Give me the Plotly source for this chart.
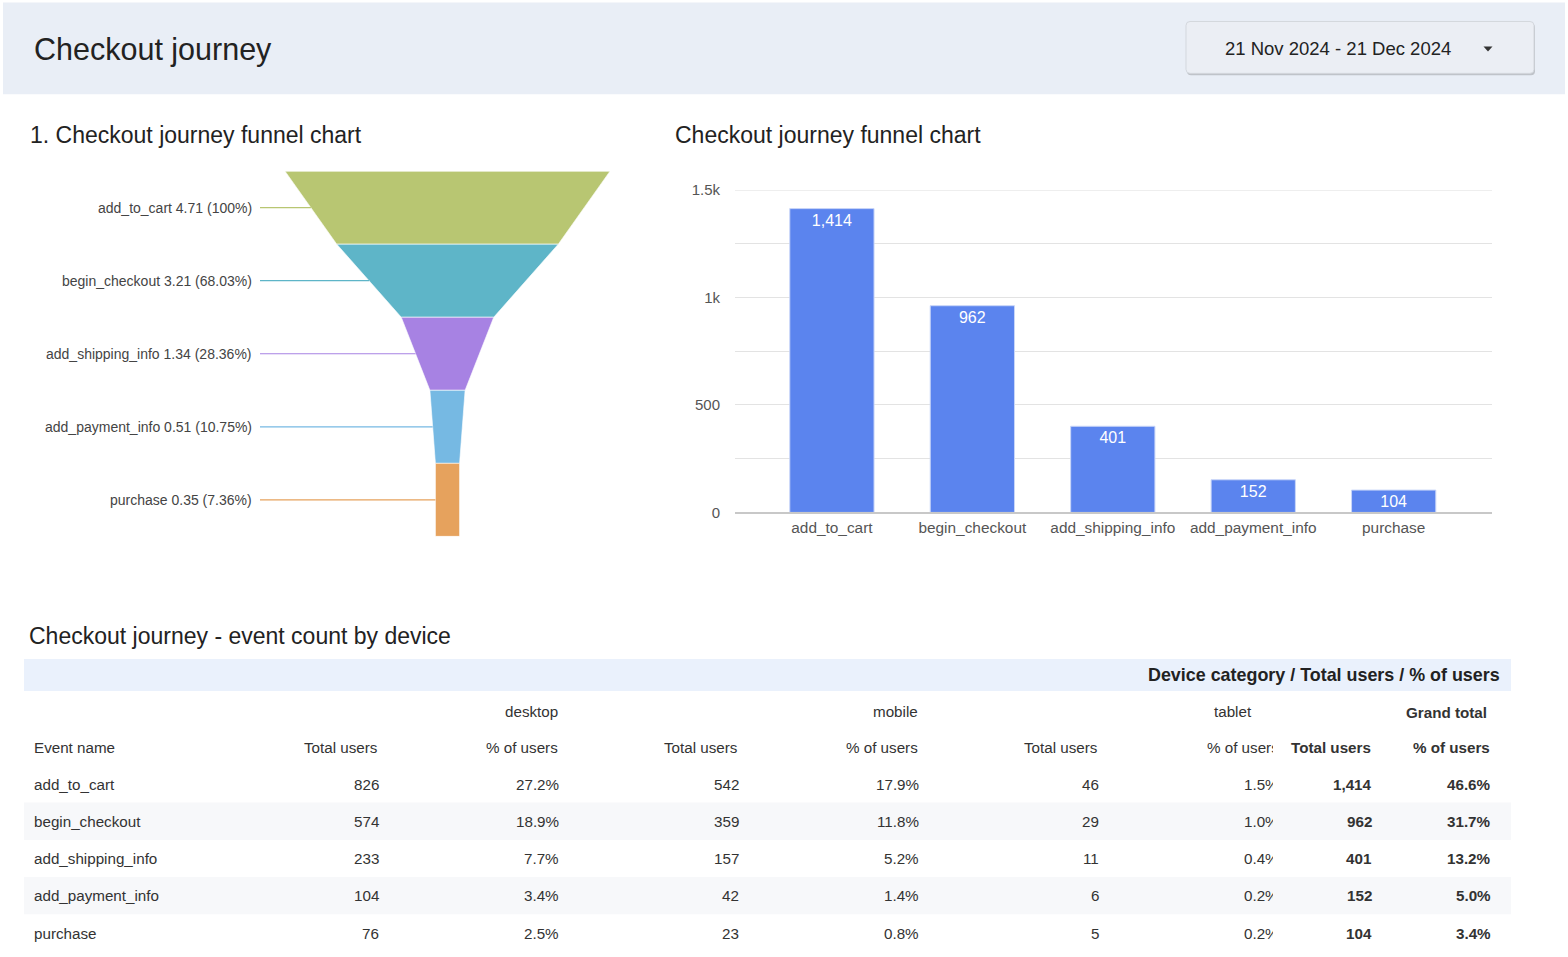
import plotly.graph_objects as go

W, H = 1568, 957
FONT = "Liberation Sans, Arial, sans-serif"

# ---------------- data ----------------
stages = ["add_to_cart", "begin_checkout", "add_shipping_info", "add_payment_info", "purchase"]
funnel_values = [4.71, 3.21, 1.34, 0.51, 0.35]
funnel_pcts = ["100%", "68.03%", "28.36%", "10.75%", "7.36%"]
funnel_colors = ["#B8C672", "#5EB5C8", "#A782E3", "#76B9E3", "#E6A25D"]

bar_values = [1414, 962, 401, 152, 104]
y_tick_vals = [0, 250, 500, 750, 1000, 1250, 1500]
y_tick_text = ["0", "", "500", "", "1k", "", "1.5k"]

devices = ["desktop", "mobile", "tablet"]
desktop_users = [826, 574, 233, 104, 76]
desktop_pct = ["27.2%", "18.9%", "7.7%", "3.4%", "2.5%"]
mobile_users = [542, 359, 157, 42, 23]
mobile_pct = ["17.9%", "11.8%", "5.2%", "1.4%", "0.8%"]
tablet_users = [46, 29, 11, 6, 5]
tablet_pct = ["1.5%", "1.0%", "0.4%", "0.2%", "0.2%"]
total_users = [1414, 962, 401, 152, 104]
total_pct = ["46.6%", "31.7%", "13.2%", "5.0%", "3.4%"]

date_range = "21 Nov 2024 - 21 Dec 2024"

# page placement of the figure as photographed (vertical offset / effective height)
TOP = 7.5
H_EFF = 942.0


def px(x):
    return x / W


def py(y):
    return 1 - (y - TOP) / H_EFF


fig = go.Figure()
shapes = []
ann = []


def text_ann(text, x, y, size, color="#222222", anchor="left", xref="paper", yref="paper", **kw):
    d = dict(text=text, x=x, y=y, xref=xref, yref=yref, xanchor=anchor, yanchor="middle",
             showarrow=False, borderpad=0, borderwidth=0,
             font=dict(family=FONT, size=size, color=color))
    d.update(kw)
    ann.append(d)


# ---------------- header ----------------
shapes.append(dict(type="rect", xref="paper", yref="paper", x0=px(3), x1=px(1565), y0=py(93), y1=py(1),
                   fillcolor="#E9EEF6", line=dict(width=0), layer="below"))
text_ann("Checkout journey", px(34), py(48), 30.5)


def rrect(x0, y0, x1, y1, r):
    pts = [
        f"M {px(x0 + r)},{py(y0)}",
        f"L {px(x1 - r)},{py(y0)}",
        f"Q {px(x1)},{py(y0)} {px(x1)},{py(y0 + r)}",
        f"L {px(x1)},{py(y1 - r)}",
        f"Q {px(x1)},{py(y1)} {px(x1 - r)},{py(y1)}",
        f"L {px(x0 + r)},{py(y1)}",
        f"Q {px(x0)},{py(y1)} {px(x0)},{py(y1 - r)}",
        f"L {px(x0)},{py(y0 + r)}",
        f"Q {px(x0)},{py(y0)} {px(x0 + r)},{py(y0)} Z",
    ]
    return " ".join(pts)


# date button shadow + body
shapes.append(dict(type="path", xref="paper", yref="paper", path=rrect(1187, 22, 1535, 74, 4),
                   fillcolor="rgba(0,0,0,0.18)", line=dict(width=0)))
shapes.append(dict(type="path", xref="paper", yref="paper", path=rrect(1186, 20, 1534, 72, 4),
                   fillcolor="#EBEEF4", line=dict(color="#D3D7DD", width=1)))
text_ann(date_range, px(1337.5), py(47), 18.5, anchor="center")
shapes.append(dict(type="path", xref="paper", yref="paper",
                   path=f"M {px(1483.5)},{py(45)} L {px(1492.5)},{py(45)} L {px(1488)},{py(50)} Z",
                   fillcolor="#333333", line=dict(width=0)))

# ---------------- funnel (left) ----------------
F_CX = 447.5          # funnel center (px)
F_TOPW = 325.0        # width of top edge (px) for the first value
scale = F_TOPW / funnel_values[0]   # px per unit
fx_range = [(0 - F_CX) / scale, (640 - F_CX) / scale]


def fx(pxx):
    return (pxx - F_CX) / scale


n = len(stages)
for i, (v, c) in enumerate(zip(funnel_values, funnel_colors)):
    nxt = funnel_values[i + 1] if i + 1 < n else v
    a, b = v / 2, nxt / 2
    fig.add_trace(go.Scatter(
        x=[-a, a, b, -b, -a], y=[i, i, i + 1, i + 1, i],
        mode="lines", fill="toself", fillcolor=c,
        line=dict(color="rgba(255,255,255,0.6)", width=1),
        hoverinfo="skip", showlegend=False, xaxis="x", yaxis="y"))
    left_mid = -(a + b) / 2
    fig.add_trace(go.Scatter(
        x=[fx(260), left_mid], y=[i + 0.5, i + 0.5], mode="lines",
        line=dict(color=c, width=1.2), hoverinfo="skip", showlegend=False,
        xaxis="x", yaxis="y"))
    text_ann(f"{stages[i]} {v:.2f} ({funnel_pcts[i]})", fx(252), i + 0.5, 14, color="#444444",
             anchor="right", xref="x", yref="y")

text_ann("1. Checkout journey funnel chart", px(30), py(134), 23)

# ---------------- bar chart (right) ----------------
fig.add_trace(go.Bar(
    x=stages, y=bar_values, width=0.6,
    marker=dict(color="#5B84EE", line=dict(color="#C9D6F8", width=1)),
    text=[f"{v:,}" for v in bar_values], textposition="inside", insidetextanchor="end",
    constraintext="none", textangle=0,
    textfont=dict(family=FONT, size=16, color="#FFFFFF"),
    hoverinfo="skip", showlegend=False, xaxis="x2", yaxis="y2"))

# top gridline (plotly omits the grid line sitting on the plot edge)
shapes.append(dict(type="line", xref="x2 domain", yref="y2", x0=0, x1=1,
                   y0=y_tick_vals[-1], y1=y_tick_vals[-1],
                   line=dict(color="#E3E3E3", width=1), layer="below"))

text_ann("Checkout journey funnel chart", px(675), py(134), 23)

# ---------------- table ----------------
text_ann("Checkout journey - event count by device", px(29), py(636), 23)
shapes.append(dict(type="rect", xref="paper", yref="paper", x0=px(24), x1=px(1511), y0=py(691), y1=py(659),
                   fillcolor="#EAF1FC", line=dict(width=0), layer="below"))
text_ann("<b>Device category / Total users / % of users</b>", px(1500), py(675), 17.9, anchor="right")

TXT = "#333333"
T_SIZE = 15.2


def cell(text, xr, y, bold=False, anchor="right", clip_w=None):
    kw = {}
    if clip_w is not None:
        kw = dict(width=clip_w, align="left")
    text_ann(f"<b>{text}</b>" if bold else text, px(xr), py(y), T_SIZE, color=TXT, anchor=anchor, **kw)


# device header row
dev_right = [558, 918, 1252]
for d, xr in zip(devices, dev_right):
    cell(d, xr, 711)
cell("Grand total", 1487, 712, bold=True)

# column header row
cell("Event name", 34, 748, anchor="left")
col_right = [378, 558, 738, 918, 1098]
col_names = ["Total users", "% of users"] * 3
for xr, nm in zip(col_right, col_names[:5]):
    cell(nm, xr, 748)
cell(col_names[5], 1273, 748, clip_w=66)
cell("Total users", 1371, 748, bold=True)
cell("% of users", 1490, 748, bold=True)

# body rows
row_y = [784.5, 821.5, 858.5, 896, 933.5]
ROW_H = 37.4
for r, yy in enumerate(row_y):
    if r % 2 == 1:
        shapes.append(dict(type="rect", xref="paper", yref="paper", x0=px(24), x1=px(1511),
                           y0=py(yy + ROW_H / 2), y1=py(yy - ROW_H / 2),
                           fillcolor="#F7F8FA", line=dict(width=0), layer="below"))
    cell(stages[r], 34, yy, anchor="left")
    cell(f"{desktop_users[r]:,}", 379, yy)
    cell(desktop_pct[r], 559, yy)
    cell(f"{mobile_users[r]:,}", 739, yy)
    cell(mobile_pct[r], 919, yy)
    cell(f"{tablet_users[r]:,}", 1099, yy)
    cell(tablet_pct[r], 1273, yy, clip_w=29)
    cell(f"{total_users[r]:,}", 1372, yy, bold=True)
    cell(total_pct[r], 1491, yy, bold=True)

# ---------------- layout ----------------
fig.update_layout(
    width=W, height=H, margin=dict(l=0, r=0, t=0, b=0),
    paper_bgcolor="#FFFFFF", plot_bgcolor="rgba(0,0,0,0)",
    showlegend=False, shapes=shapes, annotations=ann,
    font=dict(family=FONT, color="#444444"),
    xaxis=dict(domain=[0, px(640)], range=fx_range, visible=False, fixedrange=True),
    yaxis=dict(domain=[py(536), py(170)], range=[n, 0], visible=False, fixedrange=True),
    xaxis2=dict(domain=[px(735), px(1492)], range=[-0.69, 4.7], type="category",
                showgrid=False, showline=True, linecolor="#C8C8C8", linewidth=2,
                ticks="", tickfont=dict(family=FONT, size=15.4, color="#555555"), anchor="y2"),
    yaxis2=dict(domain=[py(512), py(189)], range=[0, 1500], tickvals=y_tick_vals, ticktext=y_tick_text,
                showgrid=True, gridcolor="#E3E3E3", gridwidth=1, zeroline=False, showline=False,
                ticks="", ticklabelstandoff=14,
                tickfont=dict(family=FONT, size=15, color="#555555"), anchor="x2"),
)

fig.write_html("out.html")
